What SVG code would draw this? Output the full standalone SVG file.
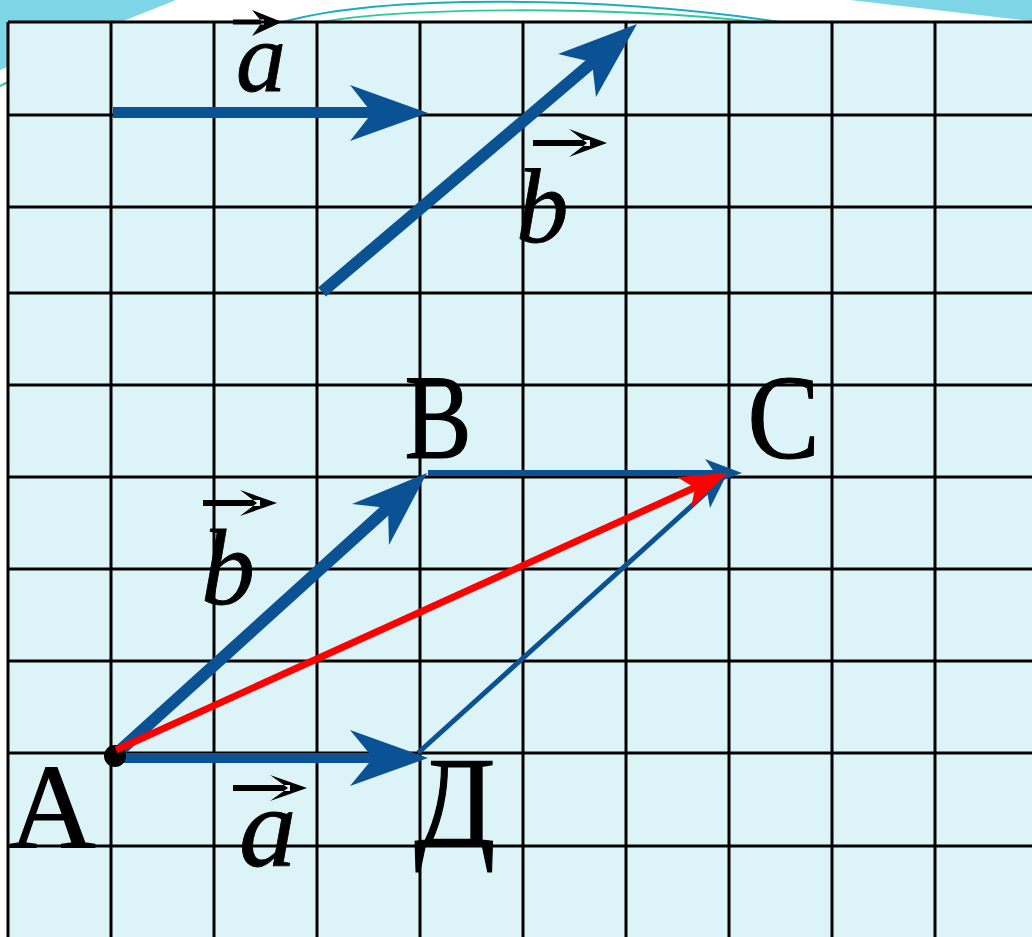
<svg xmlns="http://www.w3.org/2000/svg" width="1032" height="937" viewBox="0 0 1032 937">
<style>
.grid{stroke:#000;stroke-width:3;fill:none}
.vec{fill:#0B5294}
.vs{stroke:#0B5294;fill:none}
.red{fill:#FF0000}
.lbl{font-family:"Liberation Serif","Times New Roman",serif;fill:#000;stroke:#000;stroke-width:1.2}
.it{font-style:italic;stroke-width:0.8}
.ov{fill:#000}
</style>
<rect x="0" y="0" width="1032" height="937" fill="#FFFFFF"/>
<g id="background">
<polygon points="0,0 176,0 0,70" fill="#7DD5E6"/>
<polygon points="850,0 1032,0 1032,21" fill="#7DD5E6"/>
<path d="M283 22 C380 -5 600 -5 780 22" stroke="#1AACC4" stroke-width="2" fill="none"/>
<path d="M322 22 C400 8 600 5 757 22" stroke="#2CC9A2" stroke-width="2" fill="none"/>
<path d="M0 86 L8 82" stroke="#2CC9A2" stroke-width="2" fill="none"/>
</g>
<g id="grid">
<rect x="8" y="22" width="1030" height="920" fill="#DCF4F8"/>
<path class="grid" d="M8 22V937M111 22V937M214 22V937M317 22V937M420 22V937M523 22V937M626 22V937M729 22V937M832 22V937M935 22V937"/>
<path class="grid" d="M8 22H1032M8 115H1032M8 207H1032M8 293H1032M8 385H1032M8 477H1032M8 569H1032M8 661H1032M8 753H1032M8 846H1032"/>
</g>
<g id="connectors">
<g id="vector-a-top">
<line class="vs" x1="113" y1="112.5" x2="376" y2="112.5" stroke-width="11"/>
<polygon class="vec" points="428,113 350,85 372,113 350,141"/>
</g>
<g id="vector-b-top">
<line class="vs" x1="322" y1="292" x2="594" y2="61" stroke-width="12"/>
<polygon class="vec" points="637,24 558,54 592,62 596,97"/>
</g>
<g id="vector-AD">
<line class="vs" x1="115" y1="758" x2="375" y2="758" stroke-width="10"/>
<polygon class="vec" points="428,758 350,730 373,758 350,786"/>
</g>
<g id="vector-AB">
<line class="vs" x1="115" y1="755" x2="390" y2="506" stroke-width="12"/>
<polygon class="vec" points="427,473 352,504 388,508 389,545"/>
</g>
<g id="vector-BC">
<line class="vs" x1="428" y1="473" x2="716" y2="473" stroke-width="6"/>
<polygon class="vec" points="742,473 705,459 715,473 705,487"/>
</g>
<g id="vector-DC">
<line class="vs" x1="418" y1="753" x2="708" y2="491" stroke-width="5"/>
<polygon class="vec" points="727,474 710,508 707,491 691,487"/>
</g>
</g>
<g id="point-A">
<circle cx="115" cy="756" r="11" fill="#000"/>
<text class="lbl" x="9" y="848" font-size="120">A</text>
</g>
<g id="vector-AC">
<line x1="116" y1="750" x2="696" y2="487" stroke="#FF0000" stroke-width="7"/>
<polygon class="red" points="728,473 677,477 695,488 691,508"/>
</g>
<g id="point-B">
<text class="lbl" transform="translate(407,458) scale(0.84,1)" x="-3" y="0" font-size="120">B</text>
</g>
<g id="point-C">
<text class="lbl" transform="translate(752,458) scale(0.9,1)" x="-5" y="0" font-size="120">C</text>
</g>
<g id="point-D">
<text class="lbl" transform="translate(416,845) scale(0.93,1)" x="-2" y="0" font-size="128">Д</text>
</g>
<g id="label-a-top">
<path class="ov" d="M233 19.5H264V24.5H233Z M282 22 L252 10 L262 22 L252 36Z"/>
<text class="lbl it" x="236" y="91" font-size="100">a</text>
</g>
<g id="label-b-top">
<path class="ov" d="M533 140H590V146H533Z M607 143 L569 129 L587 143 L569 157Z"/>
<text class="lbl it" x="516" y="242" font-size="105">b</text>
</g>
<g id="label-b-AB">
<path class="ov" d="M203 500H260V506H203Z M277 503 L240 490 L257 503 L240 516Z"/>
<text class="lbl it" x="201" y="604" font-size="108">b</text>
</g>
<g id="label-a-AD">
<path class="ov" d="M233 785H290V791H233Z M307 788 L270 775 L288 788 L270 801Z"/>
<text class="lbl it" x="239" y="866" font-size="115">a</text>
</g>
</svg>
